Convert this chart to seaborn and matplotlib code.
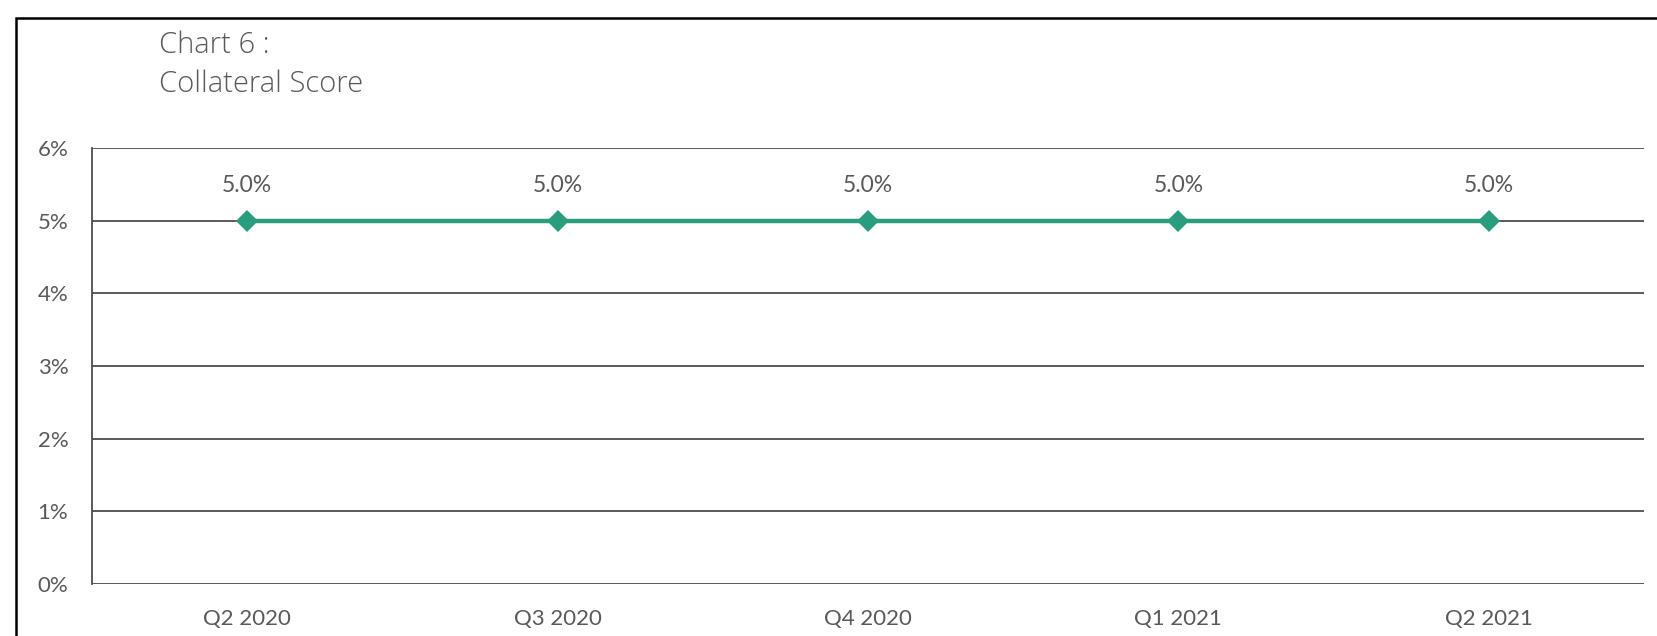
import numpy as np
import pandas as pd
import matplotlib
matplotlib.use("Agg")
import matplotlib.pyplot as plt
import seaborn as sns
from matplotlib.patches import Rectangle
from matplotlib.ticker import FuncFormatter

# ── Data ──
quarters = ["Q2 2020", "Q3 2020", "Q4 2020", "Q1 2021", "Q2 2021"]
collateral_score = [5.0, 5.0, 5.0, 5.0, 5.0]
y_ticks = [0, 1, 2, 3, 4, 5, 6]

LINE_COLOR = "#2A9D7E"
TEXT_COLOR = "#595959"
GRID_COLOR = "#4D4D4D"

sns.set_theme(style="white")
plt.rcParams["font.family"] = ["Lato", "DejaVu Sans"]

df = pd.DataFrame({"quarter": quarters, "score": collateral_score})

fig = plt.figure(figsize=(16.58, 6.36), dpi=100)
ax = fig.add_axes([92 / 1658, 1 - 584 / 636, (1644 - 92) / 1658, (584 - 148) / 636])

sns.lineplot(data=df, x="quarter", y="score", ax=ax, color=LINE_COLOR,
             linewidth=3.2, marker="D", markersize=11, markeredgewidth=0,
             zorder=3)

for i, v in enumerate(collateral_score):
    ax.annotate(f"{v:.1f}%", (i, v), xytext=(0, 25), textcoords="offset points",
                ha="center", va="center", fontsize=16.5, color=TEXT_COLOR)

ax.set_xlim(-0.5, len(quarters) - 0.5)
ax.set_ylim(0, 6)
ax.set_yticks(y_ticks)
ax.yaxis.set_major_formatter(FuncFormatter(lambda v, _: f"{v:.0f}%"))
for y in y_ticks:
    ax.axhline(y, color=GRID_COLOR, linewidth=1.3, zorder=1)

ax.set_xlabel("")
ax.set_ylabel("")
ax.tick_params(axis="both", length=0, labelsize=16, labelcolor=TEXT_COLOR)
ax.tick_params(axis="y", pad=17)
ax.tick_params(axis="x", pad=18)
for side in ["top", "right", "bottom"]:
    ax.spines[side].set_visible(False)
ax.spines["left"].set_color(GRID_COLOR)
ax.spines["left"].set_linewidth(1.3)

# title
for txt, ypix in [("Chart 6 :", 45), ("Collateral Score", 84)]:
    fig.text(159 / 1658, 1 - ypix / 636, txt, fontsize=21, color=TEXT_COLOR,
             family=["Open Sans", "DejaVu Sans"], fontweight="light",
             va="center", ha="left")

# outer frame
fig.patches.append(Rectangle((16 / 1658, -0.1), 1.2, 1.1 - 18 / 636,
                             transform=fig.transFigure, fill=False,
                             edgecolor="black", linewidth=1.8))

fig.savefig("out.png", dpi=100)
